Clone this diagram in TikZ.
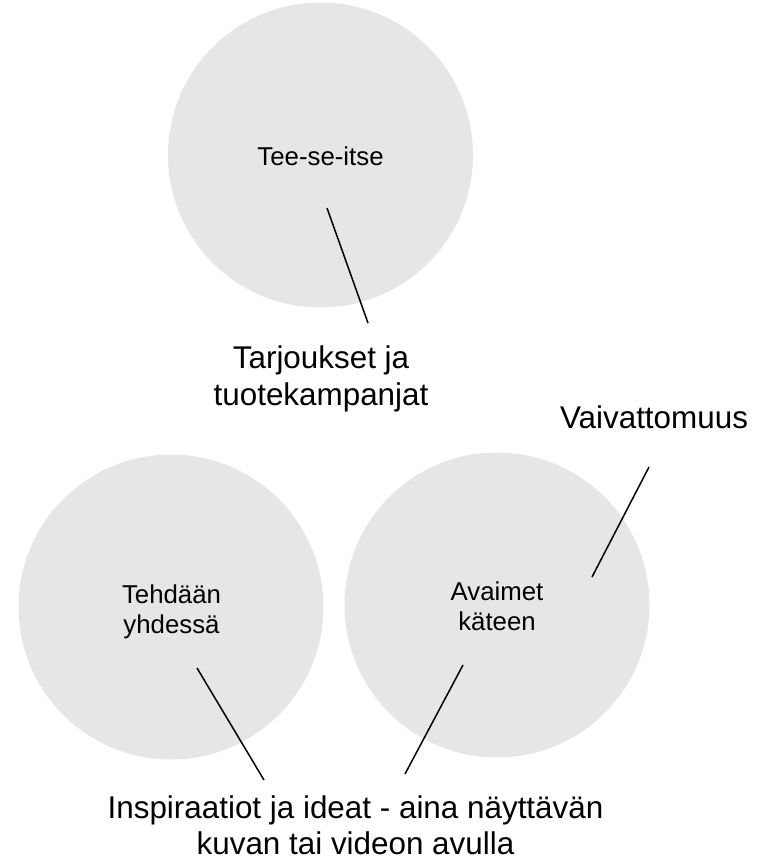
\documentclass[tikz,border=0pt]{standalone}
\usepackage{fontspec}
\setmainfont{Liberation Sans}
\definecolor{circfill}{RGB}{230,230,230}
\begin{document}
\begin{tikzpicture}[x=1pt,y=-1pt,
  bubble/.style={circle,fill=circfill,draw=none,minimum size=305pt,inner sep=0pt},
  small/.style={font=\fontsize{25.8}{30}\selectfont,align=center,inner sep=0pt,anchor=base},
  big/.style={font=\fontsize{31.4}{37}\selectfont,align=center,inner sep=0pt,anchor=base},
  link/.style={line width=1.5pt,black}]
\useasboundingbox (0,0) rectangle (756,859);
% circles
\node[bubble] (top) at (320.5,155) {};
\node[bubble] (bl) at (171,607) {};
\node[bubble] (br) at (497,605) {};
% inner labels (base = last line baseline)
\node[small] (tlabel) at (320.5,165) {Tee-se-itse};
\node[small] (bllabel) at (171.5,633) {Tehdään\\yhdessä};
\node[small] (brlabel) at (497,630) {Avaimet\\käteen};
% outer labels
\node[big] (tarj) at (321,405) {Tarjoukset ja\\tuotekampanjat};
\node[big] (vaiv) at (654,428) {Vaivattomuus};
\node[big,font=\fontsize{31.4}{36}\selectfont] (insp) at (355.5,854) {Inspiraatiot ja ideat - aina näyttävän\\kuvan tai videon avulla};
% connector ends
\coordinate (c1a) at (327,208);
\coordinate (c1b) at (368,323);
\coordinate (c2a) at (649,467);
\coordinate (c2b) at (592,577);
\coordinate (c3a) at (197,668);
\coordinate (c3b) at (264,780);
\coordinate (c4a) at (463,665);
\coordinate (c4b) at (405,774);
\draw[link] (c1a) -- (c1b);
\draw[link] (c2a) -- (c2b);
\draw[link] (c3a) -- (c3b);
\draw[link] (c4a) -- (c4b);
\end{tikzpicture}
\end{document}
